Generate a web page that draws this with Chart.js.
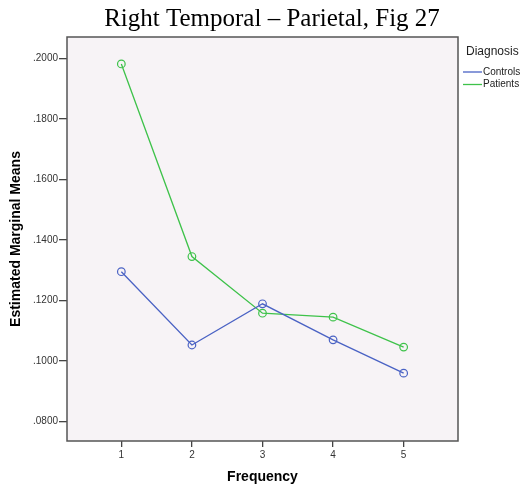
<!DOCTYPE html>
<html>
<head>
<meta charset="utf-8">
<script src="https://cdn.jsdelivr.net/npm/chart.js@4"></script>
<style>
html,body{margin:0;padding:0;background:#fff;overflow:hidden;}
canvas{display:block;}
</style>
</head>
<body>
<canvas id="c" width="521" height="490"></canvas>
<script>
const chartTitle = "Right Temporal – Parietal, Fig 27";
const xTitle = "Frequency";
const yTitle = "Estimated Marginal Means";
const legendTitle = "Diagnosis";
const frequencies = [1, 2, 3, 4, 5];
const seriesNames = ["Controls", "Patients"];
const controls = [0.1295, 0.1053, 0.1189, 0.1070, 0.0960];
const patients = [0.1981, 0.1345, 0.1158, 0.1145, 0.1046];
const yTicks = [0.08, 0.10, 0.12, 0.14, 0.16, 0.18, 0.20];
const colors = ["#4a62c4", "#3ec24a"];

const PLOT_BG = "#f7f3f6";

const bgPlugin = {
  id: 'bg',
  beforeDraw(chart) {
    const {ctx, chartArea: a} = chart;
    ctx.save();
    ctx.fillStyle = PLOT_BG;
    ctx.fillRect(a.left, a.top, a.right - a.left, a.bottom - a.top);
    ctx.restore();
  },
  afterDraw(chart) {
    const {ctx, chartArea: a} = chart;
    ctx.save();
    ctx.strokeStyle = "#555";
    ctx.lineWidth = 1.5;
    ctx.strokeRect(a.left, a.top, a.right - a.left, a.bottom - a.top);
    // title
    ctx.fillStyle = "#000";
    ctx.font = "25px 'Liberation Serif', 'Times New Roman', serif";
    ctx.textAlign = "center";
    ctx.textBaseline = "alphabetic";
    ctx.fillText(chartTitle, 272, 26);
    // legend
    ctx.textAlign = "left";
    ctx.textBaseline = "middle";
    ctx.font = "12px 'Liberation Sans', Arial, sans-serif";
    ctx.fillStyle = "#222";
    ctx.fillText(legendTitle, 466, 52);
    ctx.font = "10px 'Liberation Sans', Arial, sans-serif";
    chart.data.datasets.forEach((ds, i) => {
      const y = 72 + i * 12.5;
      ctx.strokeStyle = ds.borderColor;
      ctx.lineWidth = 1.3;
      ctx.beginPath();
      ctx.moveTo(463, y);
      ctx.lineTo(482, y);
      ctx.stroke();
      ctx.fillStyle = "#222";
      ctx.fillText(ds.label, 483, y);
    });
    ctx.restore();
  }
};

new Chart(document.getElementById('c'), {
  type: 'line',
  data: {
    datasets: [
      {label: seriesNames[0], data: frequencies.map((f, i) => ({x: f, y: controls[i]})), borderColor: colors[0], backgroundColor: 'rgba(0,0,0,0)', borderWidth: 1.3, pointRadius: 3.8, pointBorderWidth: 1.2, pointBackgroundColor: 'rgba(0,0,0,0)', tension: 0},
      {label: seriesNames[1], data: frequencies.map((f, i) => ({x: f, y: patients[i]})), borderColor: colors[1], backgroundColor: 'rgba(0,0,0,0)', borderWidth: 1.3, pointRadius: 3.8, pointBorderWidth: 1.2, pointBackgroundColor: 'rgba(0,0,0,0)', tension: 0}
    ]
  },
  options: {
    responsive: false,
    animation: false,
    layout: {padding: {top: 37, right: 63, left: 0, bottom: 0}},
    plugins: {legend: {display: false}, title: {display: false}, tooltip: {enabled: false}},
    scales: {
      x: {
        type: 'linear',
        min: 0.23, max: 5.77,
        afterBuildTicks(scale) { scale.ticks = frequencies.map(v => ({value: v})); },
        afterFit(scale) { scale.height = 49; },
        grid: {drawOnChartArea: false, drawTicks: true, tickLength: 6, color: '#444', lineWidth: 1.3},
        border: {display: false},
        ticks: {color: '#333', font: {family: "'Liberation Sans', Arial, sans-serif", size: 10}, padding: 2, maxRotation: 0, callback: v => String(v)},
        title: {display: true, text: xTitle, color: '#000', font: {family: "'Liberation Sans', Arial, sans-serif", size: 14, weight: 'bold'}, padding: {top: 4, bottom: 4}}
      },
      y: {
        type: 'linear',
        min: 0.0736, max: 0.207,
        afterBuildTicks(scale) { scale.ticks = yTicks.map(v => ({value: v})); },
        afterFit(scale) { scale.width = 67; },
        grid: {drawOnChartArea: false, drawTicks: true, tickLength: 8, color: '#444', lineWidth: 1.3},
        border: {display: false},
        ticks: {color: '#333', font: {family: "'Liberation Sans', Arial, sans-serif", size: 10}, padding: 1, callback: v => v.toFixed(4).replace(/^0/, '')},
        title: {display: true, text: yTitle, color: '#000', font: {family: "'Liberation Sans', Arial, sans-serif", size: 14, weight: 'bold'}, padding: {top: 8, bottom: 4}}
      }
    }
  },
  plugins: [bgPlugin]
});
</script>
</body>
</html>
